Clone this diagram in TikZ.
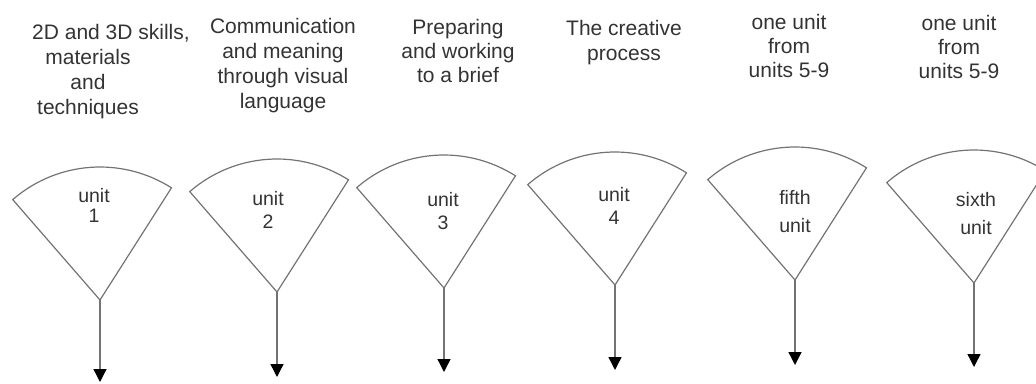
\documentclass[tikz,border=0pt]{standalone}
\usepackage{fontspec}
\setmainfont{Liberation Sans}
\usetikzlibrary{arrows.meta}
\tikzset{
  sector/.style={draw=black!55, line width=1.2pt},
  unittext/.style={align=center, text=black!80, font=\fontsize{19.5}{23}\selectfont, inner sep=0pt},
  topic/.style={align=center, text=black!80, font=\fontsize{21}{25}\selectfont, inner sep=0pt},
  feed/.style={draw=black!55, line width=1.4pt, -{Triangle[length=13pt,width=13pt,color=black]}},
}

\begin{document}
\begin{tikzpicture}[x=1pt,y=-1pt]
  \useasboundingbox (0,0) rectangle (1036,383);

  % apex of each fan and the end of its arrow
  \foreach \n/\ax/\ay/\ty in {1/100/300/382, 2/277/292/377, 3/444/288/372,
                              4/615/285/370, 5/795/280/365, 6/974/283/367}{
    \coordinate (apex\n) at (\ax,\ay);
    \coordinate (tip\n) at (\ax,\ty);
    \draw[sector] (apex\n) -- ++(-131:133) arc[start angle=-131, end angle=-57.5, radius=133] -- cycle;
    \draw[feed] (apex\n) -- (tip\n);
  }

  % unit names inside the fans
  \node[unittext] (unit1) at (94,205) {unit\\[-3pt]1};
  \node[unittext] (unit2) at (268,210) {unit\\2};
  \node[unittext] (unit3) at (443,211) {unit\\3};
  \node[unittext] (unit4) at (614,206) {unit\\4};
  \node[unittext] (unit5) at (795,212) {fifth\\[5pt]unit};
  \node[unittext] (unit6) at (976,214) {sixth\\[5pt]unit};

  % topics above the fans
  \node[topic] (topic1) at (88,72) {\hspace*{46pt}2D and 3D skills,\\materials\\and\\techniques};
  \node[topic] (topic2) at (283,66) {Communication\\and meaning\\through visual\\language};
  \node[topic] (topic3) at (458,51) {Preparing\\[-1pt]and working\\[-1pt]to a brief};
  \node[topic] (topic4) at (624,43) {The creative\\process};
  \node[topic] (topic5) at (789,46) {one unit\\[-1pt]from\\[-1pt]units 5-9};
  \node[topic] (topic6) at (959,47) {one unit\\[-1pt]from\\[-1pt]units 5-9};
\end{tikzpicture}
\end{document}
